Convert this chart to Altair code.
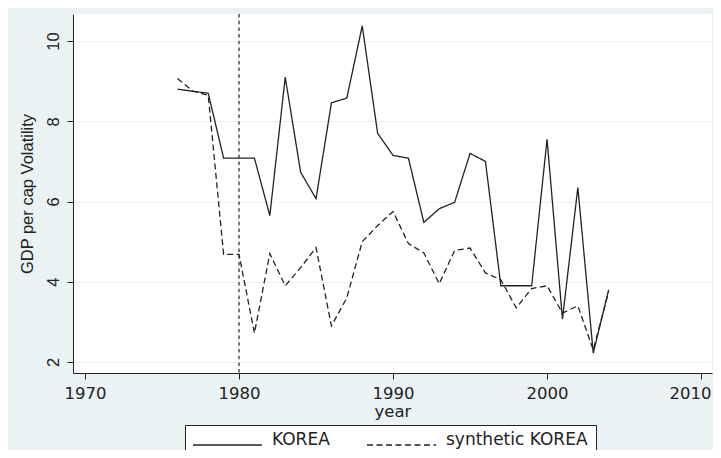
import altair as alt
import pandas as pd

years = list(range(1976, 2005))
korea = [8.8, 8.75, 8.7, 7.08, 7.08, 7.08, 5.65, 9.1, 6.73, 6.07, 8.46, 8.58, 10.38, 7.7,
         7.15, 7.08, 5.48, 5.82, 5.98, 7.2, 7.0, 3.9, 3.9, 3.9, 7.55, 3.07, 6.35, 2.22, 3.8]
synthetic = [9.07, 8.75, 8.65, 4.68, 4.68, 2.72, 4.7, 3.9, 4.35, 4.85, 2.9, 3.6, 5.0, 5.4,
             5.75, 4.95, 4.72, 3.95, 4.78, 4.84, 4.22, 4.05, 3.35, 3.83, 3.9, 3.22, 3.4, 2.3, 3.75]
series_names = ["KOREA", "synthetic KOREA"]
x_ticks = [1970, 1980, 1990, 2000, 2010]
y_ticks = [2, 4, 6, 8, 10]
treatment_year = [1980]

df = pd.DataFrame({
    "year": years * 2,
    "value": korea + synthetic,
    "series": [series_names[0]] * len(years) + [series_names[1]] * len(years),
})
vline = pd.DataFrame({"year": treatment_year})

INK = "#222222"
BG = "#EAF2F3"

xscale = alt.Scale(domain=[1969.22, 2010.71], nice=False, zero=False)
yscale = alt.Scale(domain=[1.725, 10.675], nice=False, zero=False)

xaxis = alt.Axis(values=x_ticks, format="d", title="year", grid=False,
                 tickSize=6, tickColor=INK, domainColor=INK, labelColor=INK,
                 labelFont="DejaVu Sans", labelFontSize=16.5, labelPadding=6,
                 labelFlush=11.5, labelFlushOffset=10,
                 titleFont="DejaVu Sans", titleFontSize=16.5, titleFontWeight="normal",
                 titleColor=INK, titlePadding=2)
yaxis = alt.Axis(values=y_ticks, title="GDP per cap Volatility", grid=True,
                 gridColor=BG, gridWidth=1.2,
                 tickSize=6, tickColor=INK, domainColor=INK, labelColor=INK,
                 labelFont="Liberation Sans", labelFontSize=16.5, labelAngle=270,
                 labelAlign="center", labelBaseline="bottom", labelPadding=6,
                 titleFont="Liberation Sans", titleFontSize=16.5, titleFontWeight="normal",
                 titleColor=INK, titlePadding=10)

lines = alt.Chart(df).mark_line(color=INK, strokeWidth=1.3).encode(
    x=alt.X("year:Q", scale=xscale, axis=xaxis),
    y=alt.Y("value:Q", scale=yscale, axis=yaxis),
    strokeDash=alt.StrokeDash(
        "series:N",
        scale=alt.Scale(domain=series_names, range=[[1, 0], [6, 3.5]]),
        legend=alt.Legend(
            title=None, orient="none", legendX=112, legendY=411, direction="horizontal",
            fillColor="white", strokeColor=INK, padding=8,
            symbolType="M-3.136,0H3.136", symbolSize=484, symbolStrokeWidth=1.3,
            symbolStrokeColor=INK, symbolOffset=22.5, labelOffset=32.5,
            labelFont="DejaVu Sans", labelFontSize=17, labelColor=INK,
            labelBaseline="alphabetic", columnPadding=34,
        ),
    ),
    detail="series:N",
)

rule = alt.Chart(vline).mark_rule(color=INK, strokeWidth=1.2, strokeDash=[3.5, 3.2]).encode(
    x=alt.X("year:Q", scale=xscale)
)

chart = alt.layer(rule, lines).properties(
    width=639, height=359,
    autosize=alt.AutoSizeParams(type="none"),
    padding={"left": 65, "top": 6, "right": 1, "bottom": 77},
    background=BG,
).configure_view(fill="white", strokeWidth=0)

chart.save("out.html", embed_options={"renderer": "svg", "actions": False})
